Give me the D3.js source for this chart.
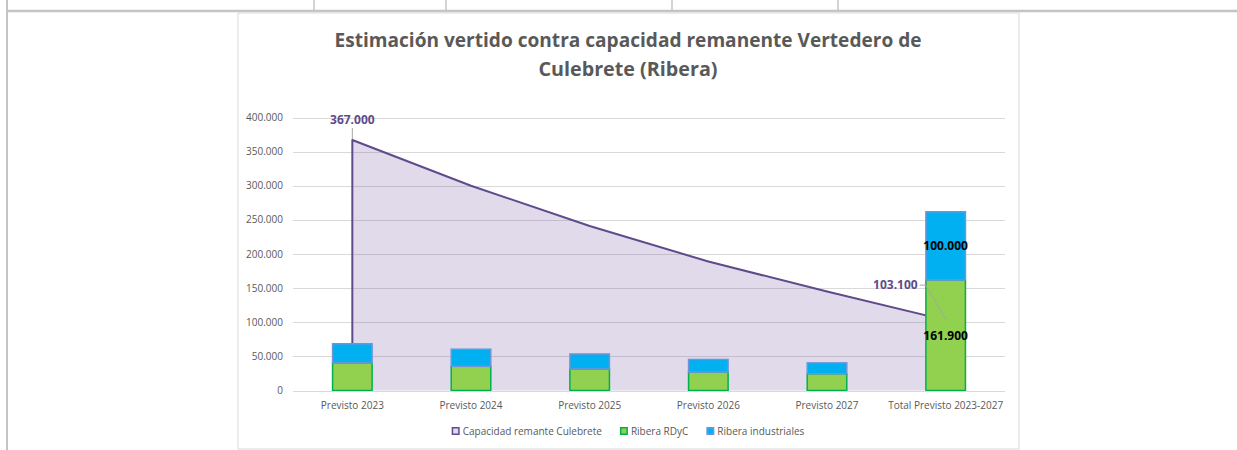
<!DOCTYPE html>
<html><head><meta charset="utf-8">
<script src="https://cdn.jsdelivr.net/npm/d3@7"></script>
<style>body{margin:0;background:#fff}svg{display:block}</style>
</head><body>
<svg id="c" width="1237" height="450"></svg>
<script>
const categories = ["Previsto 2023","Previsto 2024","Previsto 2025","Previsto 2026","Previsto 2027","Total Previsto 2023-2027"];
const capacidad = [367000, 300000, 241000, 189000, 145000, 103100];
const rdyc = [40500, 35500, 31500, 27000, 24500, 161900];
const industriales = [28000, 25000, 22000, 18500, 16000, 100000];
const yTicks = [0, 50000, 100000, 150000, 200000, 250000, 300000, 350000, 400000];
const legendLabels = ["Capacidad remante Culebrete", "Ribera RDyC", "Ribera industriales"];
const titleLines = ["Estimación vertido contra capacidad remanente Vertedero de", "Culebrete (Ribera)"];

const loc = d3.formatLocale({decimal: ",", thousands: ".", grouping: [3], currency: ["", "€"]});
const fmt = loc.format(",");

const svg = d3.select("#c");
const W = 1237, H = 450;
const FONT = "'Open Sans', 'Noto Sans', sans-serif";
const grey = "#595959";

// spreadsheet background lines
const bg = svg.append("g").attr("stroke", "#c4c4c4");
bg.append("line").attr("x1", 7).attr("x2", 7).attr("y1", 0).attr("y2", H).attr("stroke-width", 2);
bg.append("line").attr("x1", 7).attr("x2", W).attr("y1", 11).attr("y2", 11).attr("stroke-width", 2.5);
[314, 446, 672, 838].forEach(x => bg.append("line").attr("x1", x).attr("x2", x).attr("y1", 0).attr("y2", 10).attr("stroke-width", 1.5));

// chart frame
svg.append("rect").attr("x", 238).attr("y", 13).attr("width", 781).attr("height", 436)
  .attr("fill", "#fff").attr("stroke", "#d9d9d9").attr("stroke-width", 1);

// title
const titleWidths = [587, 179];
titleLines.forEach((t, i) => {
  svg.append("text").attr("x", 628).attr("y", 47 + i * 29).attr("text-anchor", "middle")
    .attr("font-family", FONT).attr("font-weight", "bold").attr("font-size", 20).attr("fill", grey)
    .attr("textLength", titleWidths[i]).attr("lengthAdjust", "spacingAndGlyphs").text(t);
});

const x = d3.scaleBand().domain(categories).range([293, 1005]).paddingInner(0).paddingOuter(0);
const y = d3.scaleLinear().domain([0, 400000]).range([390.5, 117.5]);
const bw = x.bandwidth() / 3;
const cx = c => x(c) + x.bandwidth() / 2;

// gridlines
svg.append("g").selectAll("line").data(yTicks).join("line")
  .attr("x1", 293).attr("x2", 1005).attr("y1", d => Math.round(y(d)) + 0.5).attr("y2", d => Math.round(y(d)) + 0.5)
  .attr("stroke", "#d9d9d9").attr("stroke-width", 1);

// y axis labels
svg.append("g").selectAll("text").data(yTicks).join("text")
  .attr("x", 283).attr("y", d => y(d) + 3.5).attr("text-anchor", "end")
  .attr("font-family", FONT).attr("font-size", 10).attr("fill", grey).text(d => fmt(d));

// area
const capData = categories.map((c, i) => ({c, v: capacidad[i]}));
const area = d3.area().x(d => cx(d.c)).y0(y(0)).y1(d => y(d.v));
svg.append("path").datum(capData).attr("d", area).attr("fill", "rgb(112,88,160)").attr("fill-opacity", 0.22);
const line = d3.line().x(d => cx(d.c)).y(d => y(d.v));
svg.append("path").datum([{c: categories[0], v: 0}].concat(capData)).attr("d", line)
  .attr("fill", "none").attr("stroke", "#5f4b8b").attr("stroke-width", 2).attr("stroke-linejoin", "round");

// stacked bars
const rows = categories.map((c, i) => ({c, rdyc: rdyc[i], ind: industriales[i]}));
const stack = d3.stack().keys(["rdyc", "ind"])(rows);
const fills = {rdyc: "#92d050", ind: "#00b0f0"};
const strokes = {rdyc: "#00b050", ind: "#6f95d9"};
stack.forEach(s => {
  svg.append("g").selectAll("rect").data(s).join("rect")
    .attr("x", d => cx(d.data.c) - bw / 2).attr("width", bw)
    .attr("y", d => y(d[1])).attr("height", d => y(d[0]) - y(d[1]))
    .attr("fill", fills[s.key]).attr("stroke", strokes[s.key]).attr("stroke-width", 1.5);
});

// x axis line
svg.append("line").attr("x1", 293).attr("x2", 1005).attr("y1", Math.round(y(0)) + 0.5).attr("y2", Math.round(y(0)) + 0.5)
  .attr("stroke", "#d9d9d9");

// category labels
svg.append("g").selectAll("text").data(categories).join("text")
  .attr("x", d => cx(d)).attr("y", 409).attr("text-anchor", "middle")
  .attr("font-family", FONT).attr("font-size", 10).attr("fill", grey).text(d => d);

// data labels: capacidad first and last
const first = capData[0], last = capData[capData.length - 1];
svg.append("line").attr("x1", cx(first.c)).attr("x2", cx(first.c)).attr("y1", y(first.v) - 1).attr("y2", y(first.v) - 12)
  .attr("stroke", "#a6a6a6").attr("stroke-width", 1);
svg.append("text").attr("x", cx(first.c)).attr("y", y(first.v) - 16).attr("text-anchor", "middle")
  .attr("font-family", FONT).attr("font-weight", "bold").attr("font-size", 12).attr("fill", "#5f4b8b").text(fmt(first.v));

const lx = cx(last.c), ly = y(last.v);
svg.append("polyline").attr("points", `${lx - 26},${ly - 35} ${lx - 20},${ly - 35} ${lx},${ly - 1}`)
  .attr("fill", "none").attr("stroke", "#a6a6a6").attr("stroke-width", 1);
svg.append("text").attr("x", lx - 28).attr("y", ly - 31).attr("text-anchor", "end")
  .attr("font-family", FONT).attr("font-weight", "bold").attr("font-size", 12).attr("fill", "#5f4b8b").text(fmt(last.v));

// total bar labels
const tot = stack.map(s => s[s.length - 1]);
tot.forEach(d => {
  svg.append("text").attr("x", cx(d.data.c)).attr("y", (y(d[0]) + y(d[1])) / 2 + 4.5).attr("text-anchor", "middle")
    .attr("font-family", FONT).attr("font-weight", "bold").attr("font-size", 12).attr("fill", "#000")
    .text(fmt(d[1] - d[0]));
});

// legend
const legFill = ["#e0dae9", "#92d050", "#00b0f0"];
const legStroke = ["#5f4b8b", "#00b050", "#6f95d9"];
const leg = svg.append("g");
let lxPos = 0;
const items = [];
legendLabels.forEach((t, i) => {
  const g = leg.append("g").attr("transform", `translate(${lxPos},0)`);
  g.append("rect").attr("x", 0.75).attr("y", -7.25).attr("width", 6.5).attr("height", 6.5)
    .attr("fill", legFill[i]).attr("stroke", legStroke[i]).attr("stroke-width", 1.5);
  const tx = g.append("text").attr("x", 11).attr("y", 0).attr("font-family", FONT).attr("font-size", 10).attr("fill", grey).text(t);
  const w = tx.node().getComputedTextLength();
  lxPos += 11 + w + 18;
});
const legW = lxPos - 18;
leg.attr("transform", `translate(${628 - legW / 2},435)`);
</script>
</body></html>
